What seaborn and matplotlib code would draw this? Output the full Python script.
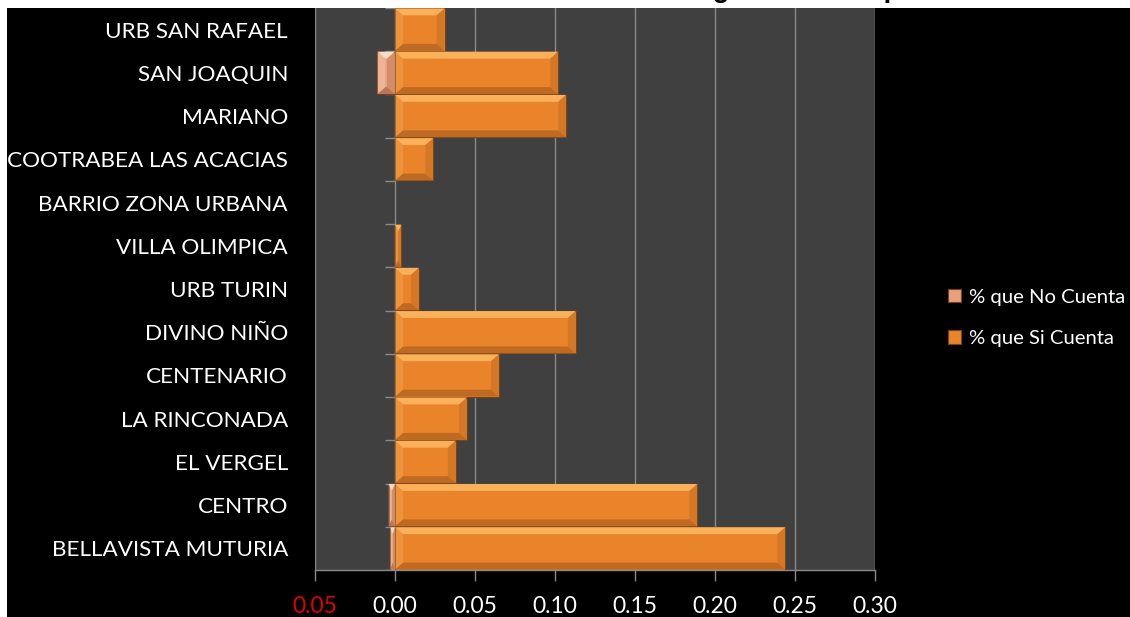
import numpy as np
import pandas as pd
import matplotlib
matplotlib.use('Agg')
import matplotlib.pyplot as plt
import seaborn as sns
from matplotlib.patches import Polygon, Rectangle

# datos (de arriba hacia abajo)
barrios = ['URB SAN RAFAEL', 'SAN JOAQUIN', 'MARIANO', 'COOTRABEA LAS ACACIAS',
           'BARRIO ZONA URBANA', 'VILLA OLIMPICA', 'URB TURIN', 'DIVINO NIÑO',
           'CENTENARIO', 'LA RINCONADA', 'EL VERGEL', 'CENTRO', 'BELLAVISTA MUTURIA']
si_cuenta = [0.031, 0.102, 0.107, 0.024, 0.0, 0.004, 0.015, 0.113,
             0.065, 0.045, 0.038, 0.189, 0.244]
no_cuenta = [0.0, -0.011, 0.0, 0.0, 0.0, 0.0, 0.0, 0.0,
             0.0, 0.0, 0.0, -0.004, -0.003]
series = ['% que No Cuenta', '% que Si Cuenta']
xticks = [-0.05, 0.0, 0.05, 0.10, 0.15, 0.20, 0.25, 0.30]
xtick_labels = ['0.05', '0.00', '0.05', '0.10', '0.15', '0.20', '0.25', '0.30']
titulo = 'Gráfica No. 10 Cobertura del Servicio de Energía Eléctrica por Barrio'

df = pd.DataFrame({
    'barrio': barrios * 2,
    'serie': [series[0]] * len(barrios) + [series[1]] * len(barrios),
    'valor': no_cuenta + si_cuenta,
})

colores = {series[0]: '#E9A07C', series[1]: '#E9842B'}
claros = {series[0]: '#FADCC6', series[1]: '#FAB15A'}
oscuros = {series[0]: '#B8765A', series[1]: '#BE6A22'}

sns.set_style('dark')
fuente = ['Lato', 'DejaVu Sans']

W, H = 1130, 617
fig = plt.figure(figsize=(W / 100, H / 100), dpi=100, facecolor='white')
# el titulo queda cortado por el borde superior, como en la imagen original
fig.text(0.5, 1 + 3 / H, titulo, ha='center', va='baseline', fontsize=20,
         fontweight='bold', family=['Liberation Sans', 'DejaVu Sans'], color='black')
fig.patches.append(Rectangle((7 / W, 0), 1 - 7 / W, 1 - 8 / H, transform=fig.transFigure,
                             facecolor='black', edgecolor='none', zorder=1))

ax = fig.add_axes([315 / W, 47 / H, 560 / W, (570 - 8) / H])
ax.set_zorder(2)
ax.set_facecolor('#404040')

sns.barplot(data=df, y='barrio', x='valor', hue='serie', hue_order=series,
            order=barrios, dodge=False, orient='h', width=0.98, saturation=1,
            palette=colores, edgecolor='#7A4214', linewidth=0.8, ax=ax, zorder=3)

# efecto biselado sobre las barras dibujadas
bx = 0.005
by = 0.16
n_barras = len(series) * len(barrios)
for patch, serie in zip(ax.patches[:n_barras], [s for s in series for _ in barrios]):
    x0, y0 = patch.get_x(), patch.get_y()
    w, h = patch.get_width(), patch.get_height()
    if abs(w) < 1e-9:
        patch.set_linewidth(0)
        continue
    xa, xb = min(x0, x0 + w), max(x0, x0 + w)
    ya, yb = min(y0, y0 + h), max(y0, y0 + h)
    b = min(bx, (xb - xa) / 2)
    # borde superior claro (eje y invertido: ya queda arriba)
    ax.add_patch(Polygon([(xa, ya), (xb, ya), (xb - b, ya + by), (xa + b, ya + by)],
                         closed=True, facecolor=claros[serie], edgecolor='none', zorder=4))
    ax.add_patch(Polygon([(xa, yb), (xb, yb), (xb - b, yb - by), (xa + b, yb - by)],
                         closed=True, facecolor=oscuros[serie], edgecolor='none', zorder=4))
    ax.add_patch(Polygon([(xb, ya), (xb, yb), (xb - b, yb - by), (xb - b, ya + by)],
                         closed=True, facecolor=oscuros[serie], edgecolor='none',
                         alpha=0.45, zorder=4))
    ax.add_patch(Polygon([(xa, ya), (xa, yb), (xa + b, yb - by), (xa + b, ya + by)],
                         closed=True, facecolor=claros[serie], edgecolor='none',
                         alpha=0.35, zorder=4))

ax.set_xlim(-0.05, 0.30)
ax.set_ylim(len(barrios) - 0.5, -0.5)
ax.set_xticks(xticks)
ax.set_xticklabels(xtick_labels, family=fuente, fontsize=16.5, color='white')
ax.get_xticklabels()[0].set_color('#E00000')
ax.tick_params(axis='x', length=8, width=1, color='#8C8C8C', pad=10.5, bottom=True)
ax.tick_params(axis='y', length=0, pad=19.5)
for lab in ax.get_yticklabels():
    lab.set_family(fuente)
    lab.set_fontsize(16.2)
    lab.set_color('white')
ax.set_xlabel('')
ax.set_ylabel('')

ax.grid(False)
for xv in xticks:
    ax.axvline(xv, color='#8A8A8A', linewidth=1, zorder=2)
limites = np.arange(len(barrios) + 1) - 0.5
ax.hlines(limites, -0.0065, 0, color='#8A8A8A', linewidth=1, zorder=2)
for lado in ['top', 'right', 'left']:
    ax.spines[lado].set_visible(False)
ax.spines['bottom'].set_color('#8A8A8A')
ax.spines['bottom'].set_linewidth(1)

leg = ax.legend(loc='center left', bbox_to_anchor=(930 / W, 1 - 318 / H),
                bbox_transform=fig.transFigure, frameon=False,
                handlelength=0.65, handleheight=0.65, handletextpad=0.35,
                labelspacing=1.2, prop={'family': fuente, 'size': 14.6})
for t in leg.get_texts():
    t.set_color('white')

fig.savefig('out.png', dpi=100, facecolor=fig.get_facecolor())
